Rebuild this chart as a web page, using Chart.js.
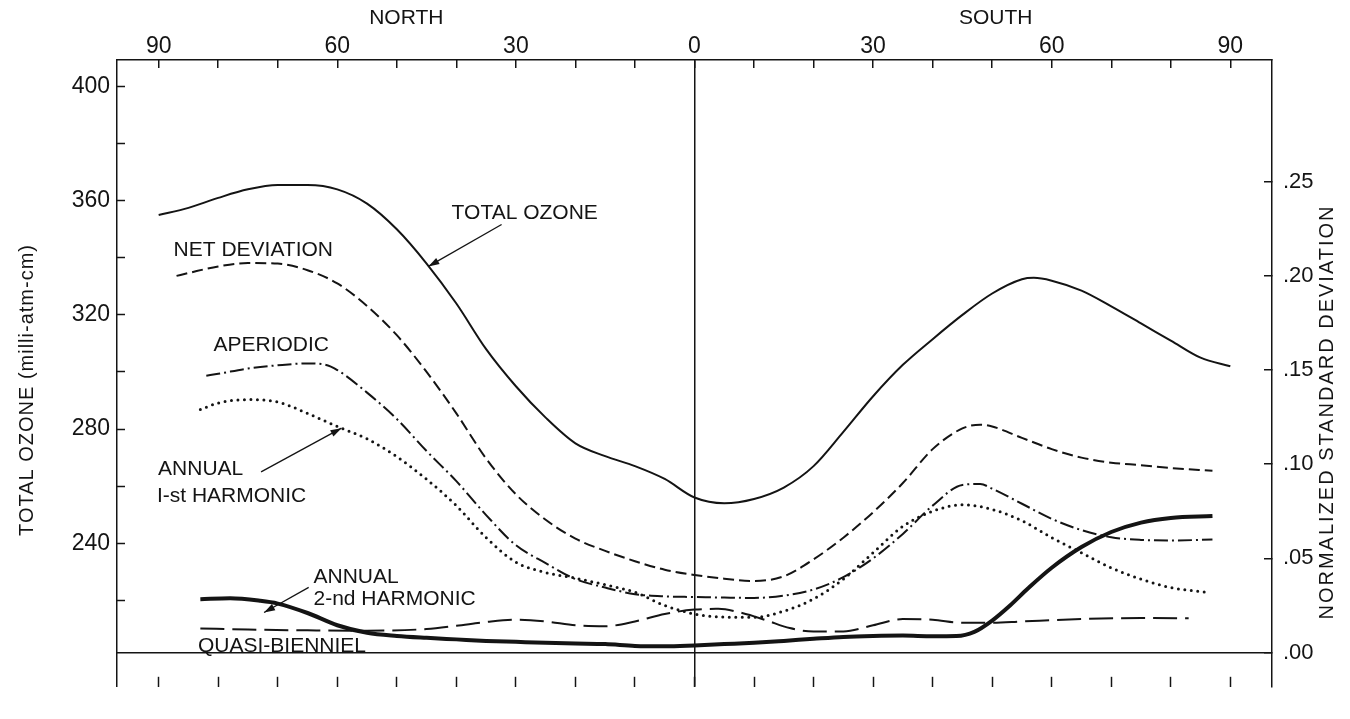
<!DOCTYPE html>
<html>
<head>
<meta charset="utf-8">
<script src="https://cdn.jsdelivr.net/npm/chart.js@4.4.0/dist/chart.umd.min.js"></script>
<style>
  html, body { margin: 0; padding: 0; background: #fff; overflow: hidden; }
  #wrap { width: 1350px; height: 719px; overflow: hidden; }
</style>
</head>
<body>
<div id="wrap"><canvas id="c" width="1350" height="719"></canvas></div>
<script>
// 緯度は北を負、南を正で持つ（目盛は絶対値で表示）
const latTicks = [-90, -80, -70, -60, -50, -40, -30, -20, -10, 0, 10, 20, 30, 40, 50, 60, 70, 80, 90];
const ozoneTicks = [220, 240, 260, 280, 300, 320, 340, 360, 380, 400];
const sdTicks = [0, 0.05, 0.10, 0.15, 0.20, 0.25];

// TOTAL OZONE（左軸, milli-atm-cm）
const ozoneLat = [-90, -85, -80, -75, -70, -65, -60, -55, -50, -45, -40, -35, -30, -25, -20, -15, -10, -5, 0, 5, 10, 15, 20, 25, 30, 35, 40, 45, 50, 55, 57, 60, 65, 70, 75, 80, 85, 90];
const ozoneVal = [355, 357.5, 361, 364, 365.5, 365.5, 364, 359, 350, 338, 324, 308, 295, 284, 275, 270.5, 267, 262.5, 256, 254, 255.5, 259.5, 267, 279, 291.5, 302.5, 311.5, 320, 327.5, 332.5, 333, 332, 328.5, 323, 317, 311, 305, 302];

// 以下は右軸（normalized standard deviation）
const netLat = [-87, -85, -80, -75, -70, -65, -60, -55, -50, -45, -40, -35, -30, -25, -20, -15, -10, -5, 0, 5, 10, 15, 20, 25, 30, 35, 40, 45, 48, 50, 55, 60, 65, 70, 75, 80, 87];
const netVal = [0.200, 0.2015, 0.205, 0.2068, 0.2065, 0.203, 0.196, 0.184, 0.1685, 0.149, 0.127, 0.103, 0.084, 0.0705, 0.0605, 0.054, 0.0485, 0.044, 0.0412, 0.0392, 0.038, 0.0405, 0.0495, 0.061, 0.0745, 0.09, 0.108, 0.119, 0.121, 0.120, 0.114, 0.108, 0.1035, 0.1008, 0.0995, 0.098, 0.0965];

const aperLat = [-82, -80, -75, -70, -65, -62, -60, -55, -50, -45, -40, -35, -30, -25, -20, -15, -10, -5, 0, 5, 10, 15, 20, 25, 30, 35, 40, 45, 48, 50, 55, 60, 65, 70, 75, 80, 87];
const aperVal = [0.147, 0.148, 0.1508, 0.1525, 0.1535, 0.1528, 0.150, 0.138, 0.124, 0.107, 0.091, 0.073, 0.057, 0.0475, 0.039, 0.0345, 0.031, 0.0298, 0.0295, 0.0292, 0.029, 0.0302, 0.0335, 0.040, 0.050, 0.063, 0.078, 0.089, 0.0895, 0.087, 0.079, 0.071, 0.065, 0.0612, 0.0598, 0.0595, 0.060];

const ann1Lat = [-83, -80, -75, -70, -65, -60, -55, -50, -45, -40, -35, -30, -25, -20, -15, -10, -5, 0, 5, 10, 15, 20, 25, 30, 35, 40, 45, 50, 55, 60, 65, 70, 75, 80, 86];
const ann1Val = [0.129, 0.1325, 0.1343, 0.133, 0.127, 0.120, 0.1135, 0.104, 0.092, 0.078, 0.061, 0.048, 0.0425, 0.0395, 0.036, 0.032, 0.025, 0.0205, 0.0188, 0.0187, 0.022, 0.0285, 0.039, 0.053, 0.067, 0.075, 0.0785, 0.076, 0.070, 0.061, 0.053, 0.045, 0.039, 0.0345, 0.032];

const ann2Lat = [-83, -75, -65, -55, -45, -40, -35, -30, -25, -20, -15, -10, -5, 0, 4, 8, 12, 16, 20, 25, 30, 35, 40, 45, 50, 55, 65, 75, 83];
const ann2Val = [0.0128, 0.0122, 0.0118, 0.0116, 0.0125, 0.0142, 0.0162, 0.0174, 0.0165, 0.0145, 0.014, 0.0165, 0.0205, 0.0228, 0.0232, 0.021, 0.0172, 0.013, 0.0112, 0.0112, 0.0145, 0.0178, 0.0174, 0.0158, 0.0158, 0.0165, 0.0178, 0.0183, 0.0182];

const qbLat = [-83, -78, -73, -70, -65, -60, -55, -50, -45, -40, -35, -30, -25, -20, -15, -10, -5, 0, 5, 10, 15, 20, 25, 30, 35, 40, 44, 47, 50, 53, 56, 60, 65, 70, 75, 80, 87];
const qbVal = [0.0283, 0.0288, 0.0275, 0.026, 0.021, 0.0145, 0.0105, 0.0088, 0.0078, 0.007, 0.0062, 0.0057, 0.0052, 0.0048, 0.0045, 0.0035, 0.0033, 0.0038, 0.0045, 0.0052, 0.0062, 0.0073, 0.0083, 0.0088, 0.009, 0.0087, 0.0088, 0.011, 0.017, 0.025, 0.034, 0.045, 0.056, 0.064, 0.069, 0.0715, 0.0725];

// 注記（緯度, 左軸の値）
const notes = [
  ['TOTAL OZONE', -40.8, 355.7],
  ['NET DEVIATION', -87.5, 342.7],
  ['APERIODIC', -80.8, 309.3],
  ['ANNUAL', -90.1, 266],
  ['I-st HARMONIC', -90.3, 256.3],
  ['ANNUAL', -64, 228],
  ['2-nd HARMONIC', -64, 220.3],
  ['QUASI-BIENNIEL', -83.4, 204],
];
const arrows = [
  [-32.4, 351.7, -44.7, 337],
  [-72.8, 265, -59.3, 280.3],
  [-64.8, 224.5, -72.3, 215.7],
];

const ink = '#141414';
const FAM = '"Liberation Sans", Arial, sans-serif';
const pts = (xs, ys) => xs.map((x, i) => ({ x, y: ys[i] }));

const annot = {
  id: 'annot',
  afterDraw(chart) {
    const { ctx, scales: { x, yL } } = chart;
    const px = v => x.getPixelForValue(v), py = v => yL.getPixelForValue(v);
    ctx.save();
    ctx.fillStyle = ink; ctx.strokeStyle = ink; ctx.lineWidth = 1.3;
    ctx.font = '21px ' + FAM; ctx.textBaseline = 'middle'; ctx.textAlign = 'left';
    notes.forEach(([t, la, v]) => ctx.fillText(t, px(la), py(v)));
    arrows.forEach(([la0, v0, la1, v1]) => {
      const x0 = px(la0), y0 = py(v0), x1 = px(la1), y1 = py(v1);
      const a = Math.atan2(y1 - y0, x1 - x0);
      ctx.beginPath(); ctx.moveTo(x0, y0); ctx.lineTo(x1, y1); ctx.stroke();
      ctx.beginPath();
      ctx.moveTo(x1, y1);
      ctx.lineTo(x1 - 11 * Math.cos(a) + 3.5 * Math.sin(a), y1 - 11 * Math.sin(a) - 3.5 * Math.cos(a));
      ctx.lineTo(x1 - 11 * Math.cos(a) - 3.5 * Math.sin(a), y1 - 11 * Math.sin(a) + 3.5 * Math.cos(a));
      ctx.closePath(); ctx.fill();
    });
    ctx.textAlign = 'center'; ctx.font = '21px ' + FAM;
    ctx.fillText('NORTH', px(-48.4), 18);
    ctx.fillText('SOUTH', px(50.6), 18);
    // 軸タイトル（どちらも下から上へ）
    ctx.font = '20px ' + FAM;
    ctx.letterSpacing = '1px';
    ctx.translate(27, 390); ctx.rotate(-Math.PI / 2);
    ctx.fillText('TOTAL OZONE (milli-atm-cm)', 0, 0);
    ctx.setTransform(1, 0, 0, 1, 0, 0);
    ctx.letterSpacing = '2px';
    ctx.translate(1327, 412); ctx.rotate(-Math.PI / 2);
    ctx.fillText('NORMALIZED STANDARD DEVIATION', 0, 0);
    ctx.restore();
  }
};

const zeroLine = c => (c.tick && c.tick.value === 0 ? ink : 'rgba(0,0,0,0)');
const tickFont = { family: FAM, size: 23 };

new Chart(document.getElementById('c'), {
  type: 'line',
  data: {
    datasets: [
      { data: pts(ozoneLat, ozoneVal), yAxisID: 'yL', borderWidth: 2 },
      { data: pts(netLat, netVal), yAxisID: 'yR', borderWidth: 2, borderDash: [11, 5] },
      { data: pts(aperLat, aperVal), yAxisID: 'yR', borderWidth: 2, borderDash: [14, 4, 2, 4] },
      { data: pts(ann1Lat, ann1Val), yAxisID: 'yR', borderWidth: 3, borderDash: [0, 6.5], borderCapStyle: 'round' },
      { data: pts(ann2Lat, ann2Val), yAxisID: 'yR', borderWidth: 2, borderDash: [24, 8] },
      { data: pts(qbLat, qbVal), yAxisID: 'yR', borderWidth: 4 },
    ],
  },
  options: {
    responsive: false, animation: false,
    layout: { padding: 0 },
    plugins: { legend: { display: false }, tooltip: { enabled: false } },
    elements: { point: { radius: 0 }, line: { cubicInterpolationMode: 'monotone', borderColor: ink, fill: false } },
    scales: {
      x: {
        type: 'linear', position: 'top', min: -97, max: 97,
        afterBuildTicks: s => { s.ticks = latTicks.map(v => ({ value: v })); },
        afterFit: s => { s.height = 60; },
        ticks: { font: tickFont, color: ink, padding: 8, maxRotation: 0, autoSkip: false, callback: v => (v % 30 === 0 ? String(Math.abs(v)) : '') },
        grid: { color: zeroLine, lineWidth: 1.5, tickColor: ink, tickWidth: 1.5, tickLength: -8 },
        border: { color: ink, width: 1.5 },
      },
      xb: {
        type: 'linear', position: 'bottom', min: -97, max: 97,
        afterBuildTicks: s => { s.ticks = latTicks.map(v => ({ value: v })); },
        afterFit: s => { s.height = 0; },
        ticks: { callback: () => '' },
        grid: { drawOnChartArea: false, tickColor: ink, tickWidth: 1.5, tickLength: -10 },
        border: { display: false },
      },
      yL: {
        type: 'linear', position: 'left', min: 189.67, max: 409.33,
        afterBuildTicks: s => { s.ticks = ozoneTicks.map(v => ({ value: v })); },
        afterFit: s => { s.width = 117; },
        ticks: { font: tickFont, color: ink, padding: 15, callback: v => (v % 40 === 0 ? String(v) : '') },
        grid: { drawOnChartArea: false, tickColor: ink, tickWidth: 1.5, tickLength: -8 },
        border: { color: ink, width: 1.5 },
      },
      yR: {
        type: 'linear', position: 'right', min: -0.01818, max: 0.3146,
        afterBuildTicks: s => { s.ticks = sdTicks.map(v => ({ value: v })); },
        afterFit: s => { s.width = 78; },
        ticks: { font: { family: FAM, size: 22 }, color: ink, padding: 19, callback: v => '.' + v.toFixed(2).split('.')[1] },
        grid: { color: zeroLine, lineWidth: 1.5, tickColor: ink, tickWidth: 1.5, tickLength: -8 },
        border: { color: ink, width: 1.5 },
      },
    },
  },
  plugins: [annot],
});
</script>
</body>
</html>
